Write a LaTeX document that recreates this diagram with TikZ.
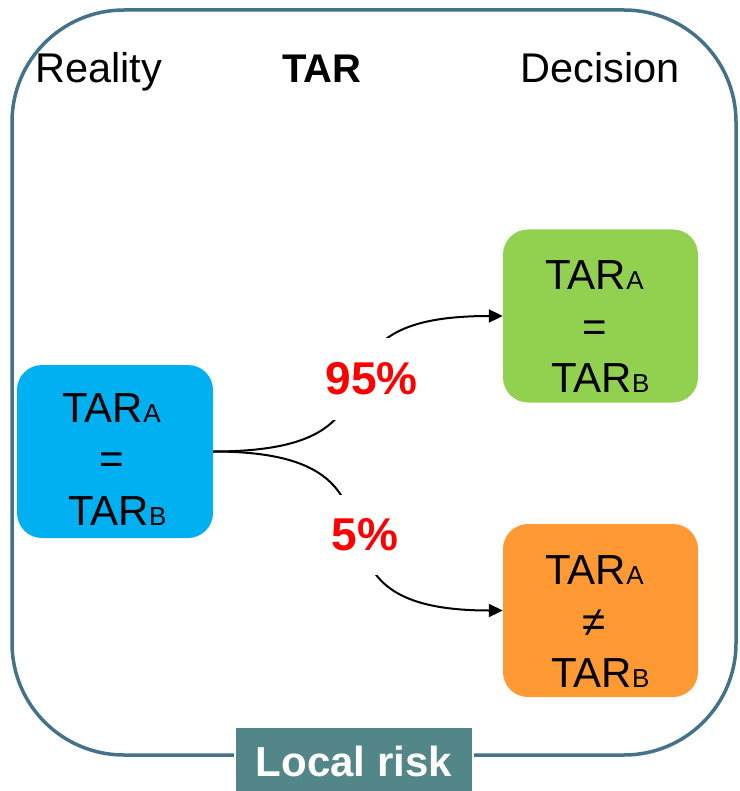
\documentclass[tikz,border=0pt]{standalone}
\usepackage{fontspec}
\setmainfont{Liberation Sans}
\usetikzlibrary{arrows.meta}

\definecolor{frameblue}{RGB}{68,114,138}
\definecolor{tagteal}{RGB}{82,134,137}
\definecolor{realblue}{RGB}{0,176,240}
\definecolor{okgreen}{RGB}{146,208,80}
\definecolor{errorange}{RGB}{255,153,51}

% smaller capital letter set on the baseline after "TAR"
\newcommand\lowletter[1]{{\fontsize{26}{30}\selectfont #1}}

\begin{document}
\begin{tikzpicture}[x=1pt,y=-1pt,
  box/.style={rectangle, rounded corners=25pt, minimum width=195pt,
              minimum height=173pt, inner sep=0pt},
  boxtext/.style={align=center, font=\fontsize{42}{51.5}\selectfont, inner sep=0pt},
  header/.style={font=\fontsize{41.5}{48}\selectfont, anchor=base, inner sep=0pt},
  pct/.style={font=\fontsize{46}{54}\selectfont\bfseries, text=red, fill=white,
              minimum width=105pt, inner sep=0pt},
  link/.style={line width=2pt, -{Triangle[length=14pt,width=13pt]},
               out=0, in=180, looseness=1.8},
  tag/.style={fill=tagteal, draw=white, line width=2.5pt, minimum width=238pt,
              minimum height=70pt, anchor=north, inner sep=0pt, text=white,
              font=\fontsize{42}{50}\selectfont\bfseries}
]
\useasboundingbox (0,0) rectangle (739,791);

% outer frame
\draw[frameblue, line width=3.5pt, rounded corners=112pt] (12,10) rectangle (736,755);

% column headers
\node[header] (reality) at (98.5,83) {Reality};
\node[header, font=\fontsize{40}{48}\selectfont\bfseries] (tar) at (322,83) {TAR};
\node[header] (decision) at (600.5,83) {Decision};

% boxes
\node[box, fill=realblue, minimum width=196pt] (real) at (115,451.5) {};
\node[box, fill=okgreen] (same) at (600.5,316) {};
\node[box, fill=errorange] (diff) at (600.5,610.5) {};

\node[boxtext] (realtxt) at (111.5,459.5)
  {TAR\lowletter{A}\\=\\\hspace*{0.278em}TAR\lowletter{B}};
\node[boxtext] (sametxt) at (594.5,327)
  {TAR\lowletter{A}\\=\\\hspace*{0.278em}TAR\lowletter{B}};
\node[boxtext] (difftxt) at (594.5,622)
  {TAR\lowletter{A}\\≠\\\hspace*{0.278em}TAR\lowletter{B}};

% connectors
\draw[link] (real.east) to (same.west);
\draw[link] (real.east) to (diff.west);

% probabilities
\node[pct, minimum height=82pt] (p95) at (371.5,379) {95\%};
\node[pct, minimum height=80pt] (p5) at (365,535) {5\%};

% bottom tag
\node[tag] (local) at (354,725) {Local risk};
\end{tikzpicture}
\end{document}
